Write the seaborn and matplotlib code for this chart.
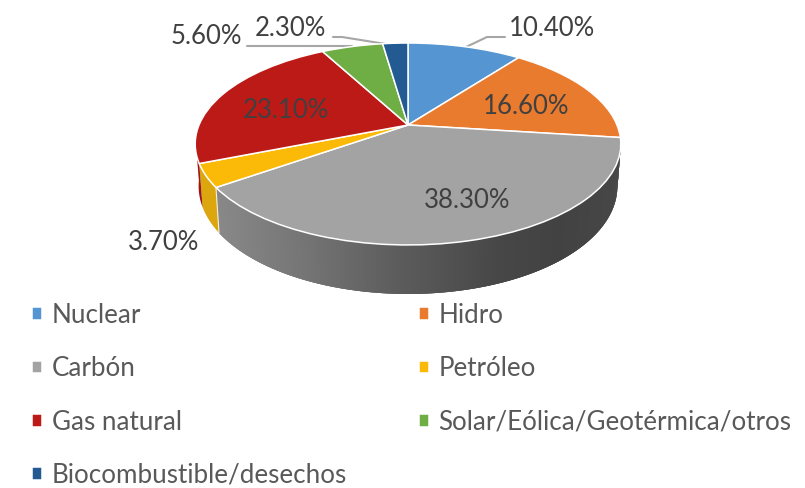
import numpy as np
import seaborn as sns
import matplotlib
matplotlib.use('Agg')
import matplotlib.pyplot as plt
from matplotlib.transforms import Transform

sns.set_theme(style='white')
plt.rcParams['font.family'] = ['Lato', 'DejaVu Sans']

# datos
fuentes = ['Nuclear', 'Hidro', 'Carbón', 'Petróleo', 'Gas natural',
           'Solar/Eólica/Geotérmica/otros', 'Biocombustible/desechos']
valores = [10.4, 16.6, 38.3, 3.7, 23.1, 5.6, 2.3]
colores = ['#5596D2', '#E97B2F', '#A3A3A3', '#FBBA07', '#BC1A17', '#6FAD45', '#235A92']
colores_pared = ['#4A83B8', '#C86A28', '#777777', '#DBA60E', '#9E1512', '#5E933B', '#1D4B7A']

# posiciones de etiquetas (pixeles)
pos_etiquetas = [(552, 29), (526, 106), (467, 201), (164, 243), (286, 110), (206, 36), (290, 29)]

# perspectiva del pastel
CX, CY, RX, RY, C = 408, 125, 209, 97.4, 0.188


class Perspectiva(Transform):
    input_dims = output_dims = 2
    is_affine = False
    has_inverse = False

    def transform_non_affine(self, values):
        values = np.asarray(values)
        w = 1 + C * values[:, 1]
        return np.column_stack([CX + RX * values[:, 0] / w, CY - RY * values[:, 1] / w])


fig, ax = plt.subplots(figsize=(8.05, 4.88), dpi=100)
fig.subplots_adjust(0, 0, 1, 1)

paleta = sns.color_palette(colores)
wedges, _ = ax.pie(valores, colors=paleta, startangle=90, counterclock=False,
                   wedgeprops=dict(edgecolor='white', linewidth=1.1, zorder=3))
persp = Perspectiva()
for w in wedges:
    w.set_transform(persp + ax.transData)

ax.set_aspect('auto')
ax.set_xlim(0, 805)
ax.set_ylim(488, 0)
ax.axis('off')

# pared lateral
def borde(theta):
    u, v = np.sin(theta), np.cos(theta)
    sup = persp.transform_non_affine(np.column_stack([u, v]))
    inf = sup.copy()
    inf[:, 0] = CX + (sup[:, 0] - CX) * 0.984
    inf[:, 1] = sup[:, 1] + 40.6 - 8.4 * v
    return sup, inf


limites = np.cumsum([0] + valores) * 3.6
for i in range(len(valores)):
    a, b = max(limites[i], 100), min(limites[i + 1], 262)
    if a >= b:
        continue
    tramos = np.radians(np.arange(a, b + 0.5, 0.5).clip(a, b))
    if fuentes[i] != 'Carbón':
        sup, inf = borde(tramos)
        ax.fill(np.r_[sup[:, 0], inf[::-1, 0]], np.r_[sup[:, 1], inf[::-1, 1]],
                color=colores_pared[i], lw=0, zorder=2)
        continue
    # de derecha a izquierda, cada trozo se solapa con el siguiente para evitar costuras
    sup, inf = borde(tramos)
    for j in range(len(tramos) - 1):
        k = min(j + 3, len(tramos) - 1)
        g = np.interp(sup[j, 0], [219, 300, 400, 500, 560, 622],
                      [0x88, 0x76, 0x5C, 0x47, 0x42, 0x47]) / 255
        ax.fill(np.r_[sup[j:k + 1, 0], inf[k:j - 1 if j else None:-1, 0]],
                np.r_[sup[j:k + 1, 1], inf[k:j - 1 if j else None:-1, 1]],
                color=(g, g, g), lw=0, zorder=2)

# linea blanca entre carbon y petroleo en la pared
sup, inf = borde(np.radians([limites[3]]))
ax.plot([sup[0, 0], inf[0, 0]], [sup[0, 1], inf[0, 1]], color='#F4F0E0', lw=0.8, zorder=2.5)

# lineas guia
gris = '#A6A6A6'
ax.plot([466, 487, 505], [47, 37, 37], color=gris, lw=1.5, zorder=2)
ax.plot([247, 352], [46, 46], color=gris, lw=1.5, zorder=2)
ax.plot([333, 342, 392], [37, 37, 45], color=gris, lw=1.5, zorder=2)

for v, (x, y) in zip(valores, pos_etiquetas):
    ax.text(x, y, f'{v:.2f}%', fontsize=18.5, color='#404040', ha='center', va='center', zorder=5)

orden = [0, 2, 4, 6, 1, 3, 5]
ax.legend([wedges[i] for i in orden], [fuentes[i] for i in orden], ncol=2,
          loc='upper left', bbox_to_anchor=(32, 303), bbox_transform=ax.transData,
          frameon=False, fontsize=18.7, labelcolor='#595959', borderpad=0, borderaxespad=0,
          handlelength=0.38, handleheight=0.38, handletextpad=0.38,
          columnspacing=2.76, labelspacing=1.09)

plt.savefig('out.png', dpi=100)
